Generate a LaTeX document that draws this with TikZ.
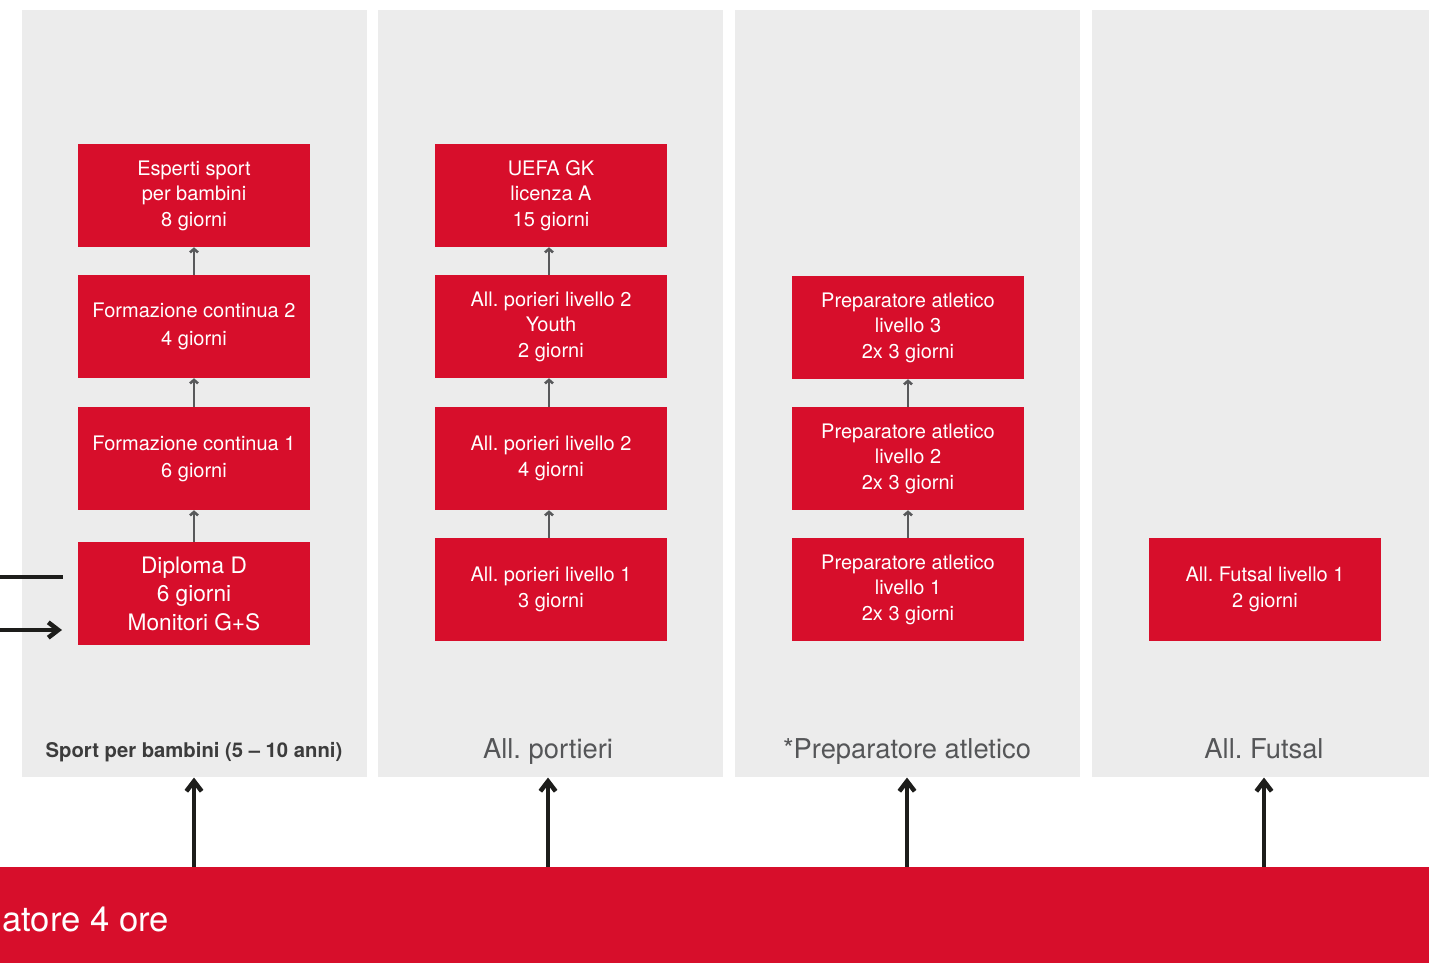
\documentclass[tikz,border=0pt]{standalone}
\usepackage{fontspec}
\setmainfont{TeX Gyre Heros}
\usetikzlibrary{arrows.meta}
\definecolor{rosso}{HTML}{D70E2B}
\definecolor{grigio}{HTML}{ECECEC}
\definecolor{freccia}{HTML}{58595B}
\definecolor{nero}{HTML}{1D1D1B}
\definecolor{testogr}{HTML}{555658}
\definecolor{testoscuro}{HTML}{3C3C3C}
\frenchspacing
\begin{document}
\begin{tikzpicture}[x=0.75pt,y=-0.75pt,
  panel/.style={fill=grigio, draw=none, inner sep=0, anchor=north west,
    minimum width=258.75pt, minimum height=575.25pt},
  box/.style={fill=rosso, text=white, inner sep=0, draw=none,
    minimum width=174pt, minimum height=77.25pt, align=center,
    font=\fontsize{15}{19.2}\selectfont},
  bigbox/.style={box, font=\fontsize{17}{21.4}\selectfont},
  small/.style={draw=freccia, line width=1.9pt,
    -{Straight Barb[length=2.6pt,width=6pt]}},
  big/.style={draw=nero, line width=3.4pt,
    -{Straight Barb[length=7.5pt,width=11.5pt]}},
  bigline/.style={draw=nero, line width=3.4pt},
  lab/.style={anchor=base, text=testogr, inner sep=0,
    font=\fontsize{20.5}{24}\selectfont},
  boldlab/.style={anchor=base, text=testoscuro, inner sep=0,
    font=\fontsize{15.2}{18}\selectfont\bfseries}
]
\useasboundingbox (0,0) rectangle (1429,963);

% panels
\node[panel] (p1) at (22,10) {};
\node[panel] (p2) at (378,10) {};
\node[panel] (p3) at (735,10) {};
\node[panel, minimum width=252.75pt] (p4) at (1092,10) {};

% column 1
\node[box] (a1) at (194,195.5) {Esperti sport\\per bambini\\8 giorni};
\node[box] (a2) at (194,326.5) {Formazione continua 2\\[2pt]4 giorni};
\node[box] (a3) at (194,458.5) {Formazione continua 1\\[1pt]6 giorni};
\node[bigbox] (a4) at (194,593.5) {Diploma D\\6 giorni\\Monitori G+S};

% column 2
\node[box] (b1) at (551,195.5) {UEFA GK\\licenza A\\15 giorni};
\node[box] (b2) at (551,326.5) {All. porieri livello 2\\Youth\\2 giorni};
\node[box] (b3) at (551,458.5) {All. porieri livello 2\\4 giorni};
\node[box] (b4) at (551,589.5) {All. porieri livello 1\\3 giorni};

% column 3
\node[box] (c1) at (908,327.5) {Preparatore atletico\\livello 3\\2x 3 giorni};
\node[box] (c2) at (908,458.5) {Preparatore atletico\\livello 2\\2x 3 giorni};
\node[box] (c3) at (908,589.5) {Preparatore atletico\\livello 1\\2x 3 giorni};

% column 4
\node[box] (d1) at (1265,589.5) {All. Futsal livello 1\\2 giorni};

% small arrows
\draw[small] (a2.north) -- (a1.south);
\draw[small] (a3.north) -- (a2.south);
\draw[small] (a4.north) -- (a3.south);
\draw[small] ([xshift=-1.5pt]b2.north) -- ([xshift=-1.5pt]b1.south);
\draw[small] ([xshift=-1.5pt]b3.north) -- ([xshift=-1.5pt]b2.south);
\draw[small] ([xshift=-1.5pt]b4.north) -- ([xshift=-1.5pt]b3.south);
\draw[small] (c2.north) -- (c1.south);
\draw[small] (c3.north) -- (c2.south);

% panel labels
\node[boldlab] (t1) at (194,757) {Sport per bambini (5 – 10 anni)};
\node[lab] (t2) at (548,758) {All. portieri};
\node[lab] (t3) at (907,758) {*Preparatore atletico};
\node[lab] (t4) at (1264,758) {All. Futsal};

% bottom bar
\node[fill=rosso, draw=none, inner sep=0, anchor=north west,
  minimum width=1071.75pt, minimum height=72pt] (bar) at (0,867) {};
\node[anchor=base west, text=white, inner sep=0,
  font=\fontsize{26}{30}\selectfont] (bartext) at (2,931) {atore 4 ore};

% big arrows
\draw[big] (bar.north -| a1.south) -- (p1.south -| a1.south);
\draw[big] ([xshift=-2.25pt]bar.north -| b1.south) -- ([xshift=-2.25pt]p2.south -| b1.south);
\draw[big] ([xshift=-0.75pt]bar.north -| c1.south) -- ([xshift=-0.75pt]p3.south -| c1.south);
\draw[big] ([xshift=-0.75pt]bar.north -| d1.south) -- ([xshift=-0.75pt]p4.south -| d1.south);

% left arrows
\coordinate (l1s) at (0,577);
\coordinate (l1e) at (63,577);
\coordinate (l2s) at (0,630);
\coordinate (l2e) at (62,630);
\draw[bigline] (l1s) -- (l1e);
\draw[big] (l2s) -- (l2e);
\end{tikzpicture}
\end{document}
